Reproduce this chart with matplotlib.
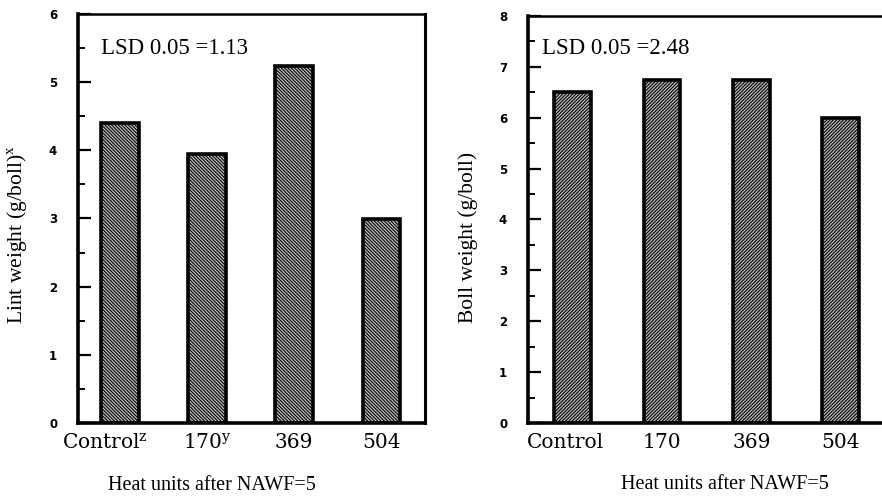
import numpy as np
import matplotlib.pyplot as plt
from matplotlib.ticker import MultipleLocator
from matplotlib.transforms import ScaledTranslation

categories = ["Control", "170", "369", "504"]
left_ticklabels = ["Control$^{\\mathregular{z}}$", "170$^{\\mathregular{y}}$", "369", "504"]
lint_weight = [4.40, 3.95, 5.24, 2.99]
boll_weight = [6.50, 6.74, 6.74, 6.00]

serif = "Liberation Serif"
wide_serif = "DejaVu Serif"
plt.rcParams["mathtext.fontset"] = "custom"
plt.rcParams["mathtext.rm"] = wide_serif
plt.rcParams["hatch.linewidth"] = 0.8
plt.rcParams["hatch.color"] = "#5c5c5c"


def style_axis(ax, ymax, xlim):
    ax.set_ylim(0, ymax)
    ax.set_xlim(*xlim)
    ax.yaxis.set_major_locator(MultipleLocator(1))
    ax.yaxis.set_minor_locator(MultipleLocator(0.5))
    ax.tick_params(axis="y", which="major", direction="in", length=9, width=1.6, pad=15)
    ax.tick_params(axis="y", which="minor", direction="in", length=5, width=1.4)
    ax.tick_params(axis="x", which="both", length=0, pad=7)
    for lbl in ax.get_yticklabels():
        lbl.set_fontweight("bold")
        lbl.set_fontsize(8.5)
        lbl.set_family("DejaVu Sans")
    for s in ["left", "bottom"]:
        ax.spines[s].set_linewidth(2.6)
    ax.spines["top"].set_linewidth(1.8)
    ax.spines["right"].set_linewidth(2.2)


fig = plt.figure(figsize=(8.82, 4.98), dpi=100)
x = np.arange(len(categories))

# left panel: lint weight
ax1 = fig.add_axes([0.0884, 0.1506, 0.3935, 0.8213])
ax1.bar(x, lint_weight, width=0.43, facecolor="#c2c2c2", edgecolor="black",
        linewidth=2.6, hatch="\\" * 10)
ax1.set_xticks(x)
ax1.set_xticklabels(left_ticklabels, family=wide_serif, fontsize=14.5)
style_axis(ax1, 6, (-0.48, 3.5))
first = ax1.get_xticklabels()[0]
first.set_transform(first.get_transform() + ScaledTranslation(-0.15, 0, fig.dpi_scale_trans))
ax1.set_ylabel("Lint weight (g/boll)$^{\\mathregular{x}}$", family=serif, fontsize=15.5)
ax1.yaxis.set_label_coords(-0.138, 0.46)
ax1.set_xlabel("Heat units after NAWF=5", family=serif, fontsize=14.5, va="center")
ax1.xaxis.set_label_coords(0.386, -0.152)
ax1.text(0.065, 0.915, "LSD 0.05 =1.13", transform=ax1.transAxes, family=serif,
         fontsize=16.5, va="center", ha="left")

# right panel: boll weight
ax2 = fig.add_axes([0.5986, 0.1506, 0.4003, 0.8173])
ax2.bar(x, boll_weight, width=0.41, facecolor="#bebebe", edgecolor="black",
        linewidth=2.6, hatch="/" * 10)
ax2.set_xticks(x)
ax2.set_xticklabels(categories, family=wide_serif, fontsize=14.5)
style_axis(ax2, 8, (-0.5, 3.45))
first = ax2.get_xticklabels()[0]
first.set_transform(first.get_transform() + ScaledTranslation(-0.07, 0, fig.dpi_scale_trans))
ax2.spines["right"].set_visible(False)
ax2.set_ylabel("Boll weight (g/boll)", family=serif, fontsize=15.5)
ax2.yaxis.set_label_coords(-0.142, 0.455)
ax2.set_xlabel("Heat units after NAWF=5", family=serif, fontsize=14.5, va="center")
ax2.xaxis.set_label_coords(0.558, -0.152)
ax2.text(0.04, 0.92, "LSD 0.05 =2.48", transform=ax2.transAxes, family=serif,
         fontsize=16.5, va="center", ha="left")

fig.savefig("out.png", dpi=100)
